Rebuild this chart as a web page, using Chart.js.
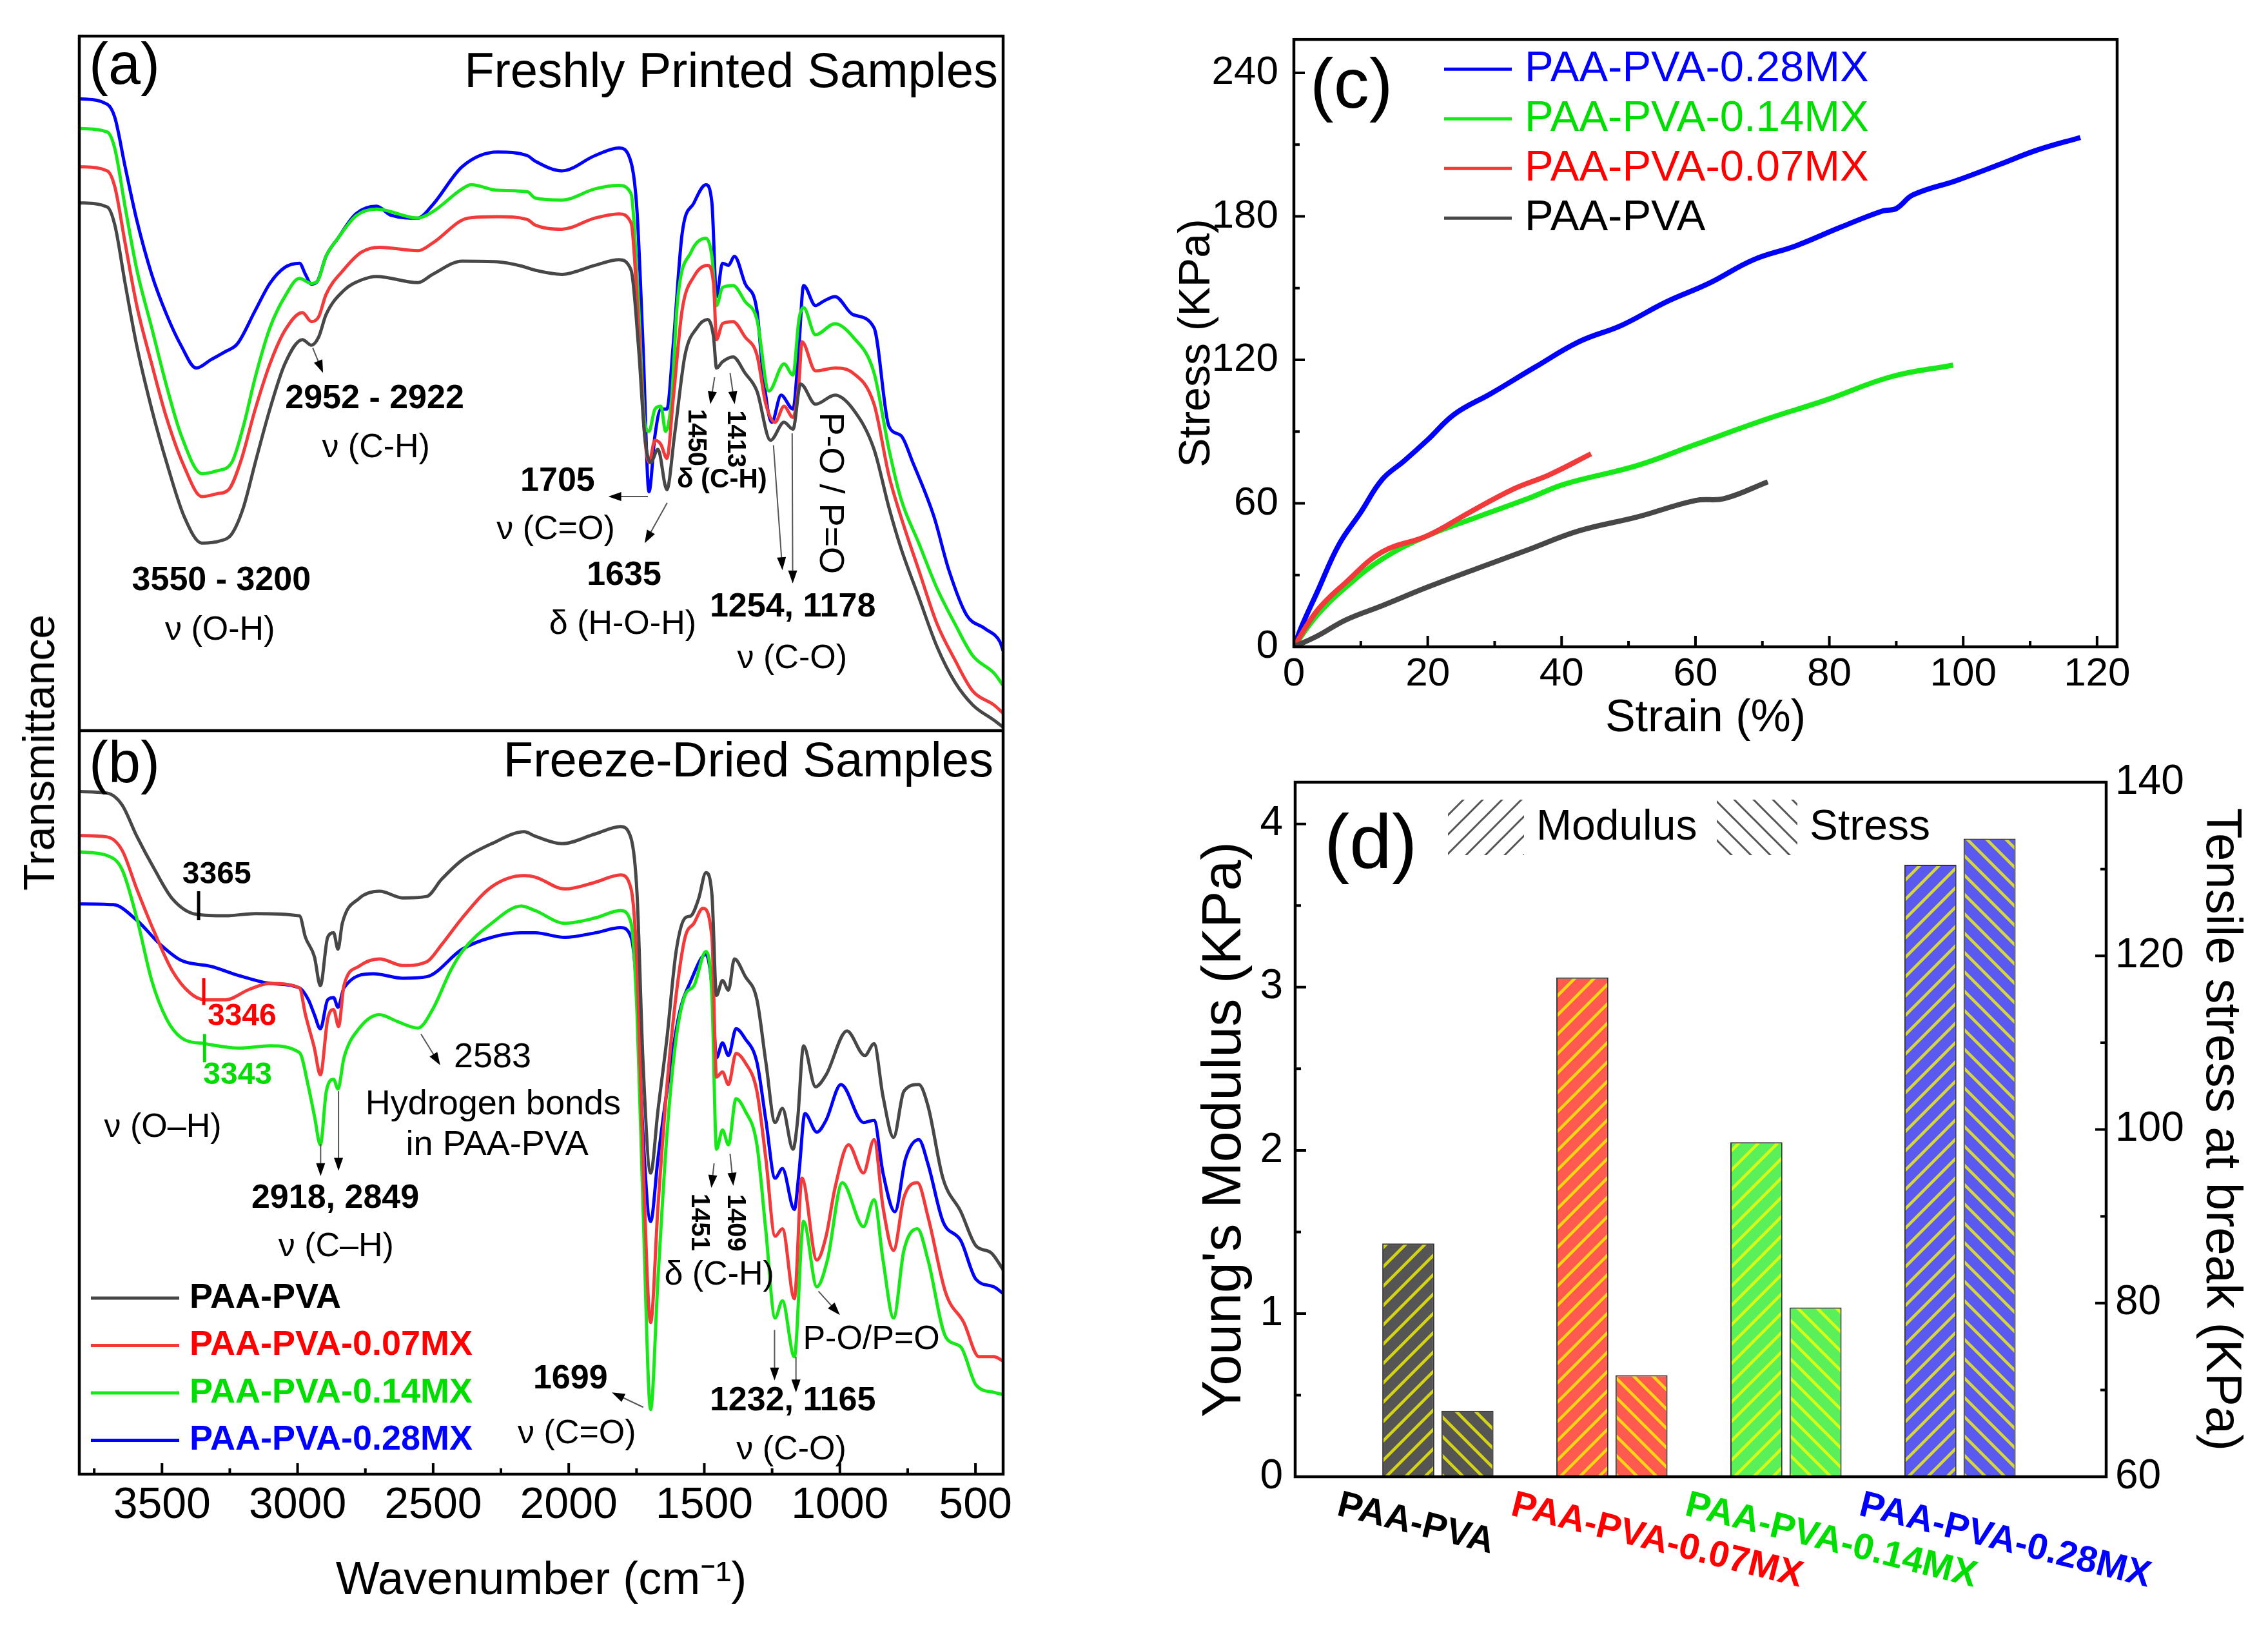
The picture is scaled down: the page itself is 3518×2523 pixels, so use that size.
<!DOCTYPE html>
<html>
<head>
<meta charset="utf-8">
<script src="https://cdn.jsdelivr.net/npm/chart.js@4.4.1/dist/chart.umd.min.js"></script>
<style>
  body { margin: 0; background: #fff; width: 3518px; height: 2523px; position: relative; overflow: hidden; font-family: "Liberation Sans", Arial, sans-serif; }
  canvas { position: absolute; }
  #ytitle { position: absolute; left: 60px; top: 1167px; transform: translate(-50%, -50%) rotate(-90deg); font-size: 68px; white-space: nowrap; color: #000; }
</style>
</head>
<body>
<canvas id="chartA" width="1600" height="1133" style="left:0;top:0"></canvas>
<canvas id="chartB" width="1600" height="1390" style="left:0;top:1133px"></canvas>
<canvas id="chartC" width="1758" height="1150" style="left:1760px;top:0"></canvas>
<canvas id="chartD" width="1758" height="1373" style="left:1760px;top:1150px"></canvas>
<div id="ytitle">Transmittance</div>
<script>
const FAM = '"Liberation Sans", Arial, sans-serif';
Chart.defaults.font.family = FAM;
Chart.defaults.color = '#000';

// ---------- data ----------
const seriesNames = ['PAA-PVA', 'PAA-PVA-0.07MX', 'PAA-PVA-0.14MX', 'PAA-PVA-0.28MX'];
const lineColors = ['#474747', '#f23a3a', '#17e817', '#0000ff'];
const textColors = ['#000000', '#ff0000', '#00dd00', '#0000ff'];

const waveTicks = [3500, 3000, 2500, 2000, 1500, 1000, 500];

// (a) freshly printed
const aGrayW = [3805,3702,3674,3636,3593,3538,3483,3418,3353,3287,3243,3200,3156,3102,3047,2982,2949,2922,2895,2829,2764,2709,2556,2502,2393,2262,2175,2124,2025,1903,1815,1770,1743,1720,1698,1671,1638,1610,1571,1527,1488,1466,1455,1433,1394,1350,1306,1256,1206,1173,1145,1090,1018,952,874,819,775,709,642,576,510,432,398];
const aGrayT = [76.0,75.4,72.8,64.4,55.4,46.3,38.6,30.8,27.0,27.3,28.3,32.1,38.6,46.3,52.8,56.3,55.5,56.7,59.9,63.4,64.9,65.4,64.5,65.7,67.6,67.5,66.9,66.3,65.7,67.0,67.8,66.3,55.4,42.5,38.6,40.5,34.7,42.5,54.1,58.0,59.2,56.7,52.2,53.1,53.8,51.5,48.9,41.8,44.4,43.4,49.9,47.0,48.3,46.3,40.5,32.1,26.3,19.2,12.1,7.0,3.7,1.5,0.5];
const aRedW = [3805,3702,3674,3636,3593,3538,3483,3418,3353,3298,3254,3211,3156,3102,3047,2982,2949,2922,2895,2829,2764,2698,2556,2502,2371,2262,2153,2124,2025,1903,1815,1770,1743,1720,1704,1682,1660,1638,1615,1582,1538,1488,1466,1455,1433,1394,1350,1306,1273,1239,1206,1173,1151,1140,1090,1018,952,874,819,775,709,642,576,510,432,398];
const aRedT = [81.2,80.6,78.3,70.2,61.2,52.8,45.0,38.0,33.7,34.1,34.7,38.6,46.3,52.8,57.6,60.2,58.9,59.6,62.8,66.4,68.9,69.6,69.1,70.2,73.8,74.0,73.6,72.8,72.2,73.8,74.4,73.1,58.6,42.5,38.6,41.8,41.2,39.2,47.6,60.5,65.4,67.0,64.4,56.3,58.6,58.9,56.7,54.1,47.0,44.4,46.7,45.1,50.2,56.0,51.8,52.2,51.5,47.0,36.7,30.8,23.1,15.4,10.2,5.7,3.7,2.5];
const aGreenW = [3805,3702,3674,3636,3593,3538,3483,3429,3353,3298,3243,3200,3156,3102,3047,2993,2949,2927,2895,2851,2785,2709,2556,2502,2393,2360,2262,2153,2124,2025,1903,1815,1770,1743,1720,1704,1682,1660,1643,1621,1599,1549,1494,1472,1455,1433,1394,1350,1306,1262,1206,1173,1151,1134,1090,1018,952,874,819,775,709,642,576,510,432,398];
const aGreenT = [86.7,86.2,83.8,75.4,66.4,58.0,49.6,42.5,37.0,37.4,38.6,43.8,50.9,58.0,62.5,65.1,64.4,64.7,68.3,70.9,74.1,75.1,73.8,74.7,78.0,78.6,77.8,77.6,76.7,76.4,78.0,78.5,77.3,61.8,44.4,43.1,46.3,46.7,43.1,47.6,61.8,68.9,70.9,68.3,61.2,63.8,64.1,61.8,59.2,48.9,52.8,51.2,59.2,60.9,57.0,58.6,56.7,51.5,40.5,33.4,27.0,20.5,15.4,10.8,8.3,6.5];
const aBlueW = [3805,3702,3674,3636,3593,3538,3483,3429,3374,3320,3265,3222,3156,3102,3047,2993,2971,2949,2927,2895,2851,2785,2709,2655,2556,2502,2393,2262,2153,2124,2025,1903,1815,1770,1748,1726,1704,1682,1660,1638,1615,1582,1538,1494,1472,1455,1433,1411,1389,1350,1306,1284,1251,1217,1173,1151,1134,1090,1062,1018,952,874,819,775,731,653,598,532,465,410,398];
const aBlueT = [91.0,90.2,88.3,81.2,73.5,65.7,59.9,55.4,52.2,53.4,54.6,55.7,60.5,64.4,66.7,67.3,65.7,64.3,64.7,68.3,70.9,74.4,75.5,74.2,73.8,75.7,81.2,83.3,82.8,82.0,80.6,82.8,83.9,81.8,74.7,55.4,34.4,42.5,46.3,46.3,55.4,71.5,76.0,78.6,76.0,62.5,67.3,67.0,68.3,64.4,60.5,51.5,44.4,48.3,46.3,55.4,64.1,61.2,61.8,62.5,59.9,58.0,43.8,42.5,38.6,30.8,23.1,16.6,14.7,12.8,11.5];

// (b) freeze-dried
const bGrayW = [3805,3702,3647,3593,3527,3462,3374,3265,3156,2993,2971,2938,2916,2889,2867,2851,2835,2774,2698,2611,2524,2469,2393,2284,2164,2124,2025,1903,1809,1770,1748,1726,1698,1671,1638,1604,1571,1549,1521,1494,1472,1455,1433,1411,1389,1350,1306,1273,1239,1212,1173,1156,1134,1090,1051,974,908,874,841,802,764,709,675,620,554,498,443,398];
const bGrayT = [91.8,91.6,90.0,85.8,81.3,77.4,75.3,75.1,75.4,75.1,72.2,69.6,65.7,72.2,72.8,70.6,74.1,77.4,78.4,77.5,77.7,80.0,82.6,84.8,86.4,85.8,84.8,86.1,87.1,85.5,78.0,55.4,40.5,48.9,58.6,70.3,74.8,75.1,77.4,80.9,78.0,64.4,66.4,65.1,69.3,67.0,63.8,55.4,47.3,49.2,43.7,47.6,57.6,52.1,53.7,59.6,56.3,57.9,50.8,45.3,51.5,52.4,49.5,39.8,35.3,30.7,29.8,27.5];
const bRedW = [3805,3702,3647,3593,3527,3462,3396,3342,3265,3178,3102,2993,2971,2938,2916,2889,2867,2849,2829,2774,2698,2611,2524,2469,2393,2284,2164,2124,2014,1903,1809,1770,1748,1726,1698,1671,1638,1604,1571,1538,1505,1472,1455,1433,1411,1383,1350,1306,1273,1239,1212,1168,1140,1085,1051,1018,968,913,874,841,802,764,714,675,609,543,487,432,398];
const bRedT = [85.9,85.7,83.9,78.7,72.8,67.7,64.7,63.8,63.8,65.2,66.0,65.4,61.8,57.3,53.7,61.2,62.5,60.2,65.7,68.3,69.3,68.4,68.9,71.2,74.8,79.0,80.5,80.3,78.7,79.6,80.6,78.7,68.3,42.4,20.4,35.9,52.1,64.4,72.2,74.1,76.1,72.2,53.4,54.1,52.4,56.6,55.4,51.5,42.4,32.0,33.0,23.6,39.8,28.8,32.0,38.5,44.3,40.5,45.0,35.9,30.1,37.2,39.2,34.6,24.3,20.4,15.8,15.8,15.2];
const bGreenW = [3805,3702,3647,3593,3538,3483,3429,3342,3211,3102,2993,2960,2938,2916,2894,2867,2851,2829,2774,2698,2633,2556,2502,2436,2393,2284,2175,2124,2014,1903,1809,1770,1748,1726,1698,1671,1638,1604,1571,1538,1494,1472,1455,1433,1411,1383,1350,1306,1273,1239,1212,1168,1134,1085,1046,991,913,874,841,802,764,714,675,609,554,498,432,398];
const bGreenT = [83.7,83.2,81.3,74.8,66.4,61.2,58.7,57.9,57.3,57.6,56.7,52.1,48.2,44.3,51.5,53.1,51.8,56.0,59.9,61.8,60.9,60.0,62.5,67.7,70.3,74.1,76.4,75.8,74.1,74.8,75.8,74.1,61.8,35.9,8.7,26.2,45.6,58.6,64.4,65.7,70.3,64.4,43.7,46.3,44.3,50.5,48.9,44.3,32.7,21.0,23.3,15.8,34.0,25.2,28.8,39.2,33.3,36.9,28.8,21.0,30.1,33.0,28.8,18.4,17.1,12.0,11.0,10.7];
const bBlueW = [3805,3680,3593,3505,3429,3320,3211,3102,2993,2960,2938,2916,2889,2867,2851,2829,2720,2611,2524,2393,2284,2175,2124,2014,1903,1809,1770,1748,1726,1698,1671,1638,1593,1549,1494,1472,1455,1433,1411,1383,1350,1306,1273,1239,1212,1168,1151,1129,1085,1051,996,913,874,841,797,758,709,675,620,554,498,432,398];
const bBlueT = [76.7,76.6,74.5,71.2,69.1,68.3,67.0,66.0,65.4,63.8,61.8,59.9,63.8,64.1,62.8,65.4,67.3,66.7,66.9,70.6,72.2,72.8,72.8,72.2,72.8,73.5,72.2,64.4,45.6,34.0,42.4,51.5,61.8,66.4,69.9,65.7,56.0,58.0,56.3,59.9,58.6,55.4,47.6,39.8,41.1,35.6,40.5,48.5,46.0,47.6,52.4,47.3,47.6,40.5,35.3,42.4,45.0,41.7,34.0,31.4,26.2,25.2,24.3];

// (c) stress-strain
const strainTicks = [0, 20, 40, 60, 80, 100, 120];
const stressTicks = [0, 60, 120, 180, 240];
const strainGray = [0, 3.5, 7.8, 13.2, 20, 27.4, 35, 42.6, 51.3, 60, 64.3, 70.8];
const stressGray = [0, 4.5, 11.3, 17.2, 25, 32.8, 40.6, 48.5, 54.3, 61.2, 62, 69];
const strainRed = [0, 3.5, 7.8, 13.2, 20, 26.3, 32.8, 38.2, 44.4];
const stressRed = [0, 15.2, 27, 39.7, 46.5, 56.3, 66, 72, 80.7];
const strainGreen = [0, 3.5, 7.8, 13.2, 20, 27.4, 35, 40.4, 51.3, 60, 70.8, 79.5, 89.3, 98.5];
const stressGreen = [0, 13.3, 25, 36.7, 46.5, 54.3, 62, 68, 75.8, 84.6, 95.4, 103.2, 113, 117.8];
const strainBlue = [0, 1.3, 3.5, 6.7, 10, 13.2, 16.5, 20, 24, 29.5, 36, 42.6, 49, 55.6, 62, 68.6, 75, 81.7, 88, 90, 92.5, 99, 105.5, 111, 117.5];
const stressBlue = [0, 9.4, 23, 42.6, 56.3, 70, 77.8, 86.6, 97.3, 106, 116.9, 127.6, 134.5, 144.2, 152, 161.8, 167.7, 175.5, 182.3, 183.3, 189, 195, 201.8, 207.7, 213];

// (d) bars
const barGroups = ['PAA-PVA', 'PAA-PVA-0.07MX', 'PAA-PVA-0.14MX', 'PAA-PVA-0.28MX'];
const modulusKPa = [1.43, 3.06, 2.05, 3.75];
const breakStressKPa = [67.6, 71.7, 79.5, 133.5];
const modulusTicks = [0, 1, 2, 3, 4];
const breakTicks = [60, 80, 100, 120, 140];
const barFills = ['#555555', '#ff5a50', '#5af05a', '#5a5af0'];

// ---------- helpers ----------
const base = {
  responsive: false, animation: false, devicePixelRatio: 1, events: [],
  plugins: { legend: { display: false }, tooltip: { enabled: false } }
};

function pts(xs, ys) { return xs.map((x, i) => ({ x, y: ys[i] })); }

function spectrumSets(pairs) {
  return pairs.map(([w, t], i) => ({
    label: seriesNames[i], data: pts(w, t), borderColor: lineColors[i], borderWidth: 5,
    pointRadius: 0, fill: false, cubicInterpolationMode: 'monotone'
  }));
}

function txt(ctx, s, x, y, o = {}) {
  ctx.save();
  ctx.font = (o.bold ? 'bold ' : '') + (o.size || 52) + 'px ' + FAM;
  ctx.fillStyle = o.color || '#000';
  ctx.textAlign = o.align || 'center';
  ctx.textBaseline = o.base || 'middle';
  ctx.translate(x, y);
  if (o.rot) ctx.rotate(o.rot);
  ctx.fillText(s, 0, 0);
  ctx.restore();
}

function arrow(ctx, x1, y1, x2, y2) {
  const ang = Math.atan2(y2 - y1, x2 - x1), h = 20, w = 7;
  ctx.save();
  ctx.strokeStyle = '#555'; ctx.fillStyle = '#000'; ctx.lineWidth = 2;
  ctx.beginPath(); ctx.moveTo(x1, y1);
  ctx.lineTo(x2 - h * 0.8 * Math.cos(ang), y2 - h * 0.8 * Math.sin(ang)); ctx.stroke();
  ctx.beginPath(); ctx.moveTo(x2, y2);
  ctx.lineTo(x2 - h * Math.cos(ang) + w * Math.sin(ang), y2 - h * Math.sin(ang) - w * Math.cos(ang));
  ctx.lineTo(x2 - h * Math.cos(ang) - w * Math.sin(ang), y2 - h * Math.sin(ang) + w * Math.cos(ang));
  ctx.closePath(); ctx.fill();
  ctx.restore();
}

function frame(chart) {
  const { ctx, chartArea: a } = chart;
  ctx.save(); ctx.strokeStyle = '#000'; ctx.lineWidth = 4.5;
  ctx.strokeRect(a.left, a.top, a.right - a.left, a.bottom - a.top);
  ctx.restore();
}

// inward ticks
function inTicks(chart, id, edge, minorStep) {
  const s = chart.scales[id], a = chart.chartArea, ctx = chart.ctx;
  const majors = s.ticks.map(t => t.value);
  const marks = majors.map(v => [v, 17]);
  if (minorStep) {
    for (let v = Math.ceil(s.min / minorStep) * minorStep; v <= s.max + 1e-9; v += minorStep) {
      if (!majors.some(m => Math.abs(m - v) < 1e-6)) marks.push([v, 9]);
    }
  }
  ctx.save(); ctx.strokeStyle = '#000'; ctx.lineWidth = 4;
  ctx.beginPath();
  marks.forEach(([v, len]) => {
    const p = s.getPixelForValue(v);
    if (edge === 'bottom') { ctx.moveTo(p, a.bottom); ctx.lineTo(p, a.bottom - len); }
    else if (edge === 'left') { ctx.moveTo(a.left, p); ctx.lineTo(a.left + len, p); }
    else { ctx.moveTo(a.right, p); ctx.lineTo(a.right - len, p); }
  });
  ctx.stroke(); ctx.restore();
}

function drawNotes(chart, notes, arrows) {
  const { ctx, scales: { x, y } } = chart;
  arrows.forEach(([w1, v1, w2, v2]) =>
    arrow(ctx, x.getPixelForValue(w1), y.getPixelForValue(v1), x.getPixelForValue(w2), y.getPixelForValue(v2)));
  notes.forEach(n => txt(ctx, n.t, x.getPixelForValue(n.w), y.getPixelForValue(n.v), n));
}

function hatch(ctx, fill, lineColor, dir, lw) {
  const c = document.createElement('canvas');
  c.width = 30; c.height = 30;
  const g = c.getContext('2d');
  if (fill) { g.fillStyle = fill; g.fillRect(0, 0, 30, 30); }
  g.strokeStyle = lineColor; g.lineWidth = lw;
  g.beginPath();
  if (dir === '/') {
    g.moveTo(-5, 35); g.lineTo(35, -5); g.moveTo(-5, 5); g.lineTo(5, -5); g.moveTo(25, 35); g.lineTo(35, 25);
  } else {
    g.moveTo(-5, -5); g.lineTo(35, 35); g.moveTo(25, -5); g.lineTo(35, 5); g.moveTo(-5, 25); g.lineTo(5, 35);
  }
  g.stroke();
  return ctx.createPattern(c, 'repeat');
}

const waveAxis = { type: 'linear', reverse: true, min: 398, max: 3805 };

// ---------- (a) ----------
const notesA = [
  { t: '2952 - 2922', w: 2716, v: 47.8, bold: true },
  { t: 'ν (C-H)', w: 2711, v: 40.7 },
  { t: '3550 - 3200', w: 3281, v: 21.6, bold: true },
  { t: 'ν (O-H)', w: 3286, v: 14.4 },
  { t: '1705', w: 2041, v: 35.9, bold: true },
  { t: 'ν (C=O)', w: 2048, v: 28.9 },
  { t: '1635', w: 1796, v: 22.3, bold: true },
  { t: 'δ (H-O-H)', w: 1801, v: 15.3 },
  { t: '1450', w: 1533, v: 42.2, bold: true, size: 40, rot: Math.PI / 2 },
  { t: '1413', w: 1386, v: 42.0, bold: true, size: 40, rot: Math.PI / 2 },
  { t: 'δ (C-H)', w: 1435, v: 36.1, bold: true, size: 42 },
  { t: 'P-O / P=O', w: 1039, v: 34.2, size: 54, rot: Math.PI / 2 },
  { t: '1254, 1178', w: 1174, v: 17.8, bold: true },
  { t: 'ν (C-O)', w: 1176, v: 10.3 }
];
const arrowsA = [
  [2944, 55.1, 2906, 51.5], [1708, 33.7, 1854, 33.7], [1637, 32.8, 1720, 27.0],
  [1462, 50.9, 1478, 47.0], [1405, 51.5, 1388, 47.0], [1245, 41.1, 1212, 23.1], [1176, 42.8, 1174, 21.2]
];

new Chart(document.getElementById('chartA'), {
  type: 'line',
  data: { datasets: spectrumSets([[aGrayW, aGrayT], [aRedW, aRedT], [aGreenW, aGreenT], [aBlueW, aBlueT]]) },
  options: {
    ...base,
    layout: { padding: { left: 123, top: 56, right: 44, bottom: 0 } },
    scales: { x: { ...waveAxis, display: false }, y: { min: 0, max: 100, display: false } }
  },
  plugins: [{
    id: 'decoA',
    afterDatasetsDraw(chart) {
      const { ctx, chartArea: a } = chart;
      frame(chart);
      drawNotes(chart, notesA, arrowsA);
      txt(ctx, '(a)', a.left + 15, a.top + 49, { size: 90, align: 'left' });
      txt(ctx, 'Freshly Printed Samples', a.right - 8, a.top + 58, { size: 76, align: 'right' });
    }
  }]
});

// ---------- (b) ----------
const notesB = [
  { t: '3365', w: 3298, v: 80.6, bold: true, size: 48 },
  { t: '3346', w: 3205, v: 61.5, bold: true, size: 48, color: '#ff0000' },
  { t: '3343', w: 3221, v: 53.6, bold: true, size: 48, color: '#00dd00' },
  { t: 'ν (O–H)', w: 3497, v: 46.6 },
  { t: '2583', w: 2281, v: 56.0, size: 54 },
  { t: 'Hydrogen bonds', w: 2279, v: 49.7, size: 54 },
  { t: 'in PAA-PVA', w: 2264, v: 44.2, size: 54 },
  { t: '2918, 2849', w: 2861, v: 37.1, bold: true },
  { t: 'ν (C–H)', w: 2858, v: 30.6 },
  { t: '1699', w: 1994, v: 12.8, bold: true },
  { t: 'ν (C=O)', w: 1970, v: 5.4 },
  { t: '1451', w: 1521, v: 33.9, bold: true, size: 40, rot: Math.PI / 2 },
  { t: '1409', w: 1388, v: 33.8, bold: true, size: 40, rot: Math.PI / 2 },
  { t: 'δ (C-H)', w: 1445, v: 26.7 },
  { t: 'P-O/P=O', w: 884, v: 18.1 },
  { t: '1232, 1165', w: 1174, v: 9.8, bold: true },
  { t: 'ν (C-O)', w: 1179, v: 3.2 }
];
const arrowsB = [
  [2545, 59.2, 2474, 55.0], [2915, 44.4, 2915, 40.1], [2849, 51.5, 2849, 40.8], [1725, 9.0, 1841, 11.0],
  [1464, 41.8, 1474, 38.5], [1405, 43.1, 1393, 38.8], [1079, 24.6, 1000, 21.4], [1241, 19.4, 1241, 12.6], [1162, 15.8, 1162, 11.0]
];
const marksB = [[3365, 78.4, 74.5, '#000000'], [3346, 66.7, 63.1, '#ff0000'], [3343, 59.2, 55.4, '#00dd00']];

new Chart(document.getElementById('chartB'), {
  type: 'line',
  data: { datasets: spectrumSets([[bGrayW, bGrayT], [bRedW, bRedT], [bGreenW, bGreenT], [bBlueW, bBlueT]]) },
  options: {
    ...base,
    layout: { padding: { left: 123, top: 0, right: 44, bottom: 0 } },
    scales: {
      x: {
        ...waveAxis,
        afterBuildTicks: s => { s.ticks = waveTicks.map(v => ({ value: v })); },
        afterFit: s => { s.height = 237; },
        ticks: { font: { size: 68 }, color: '#000', padding: 8, maxRotation: 0, autoSkip: false, callback: v => String(v) },
        grid: { display: false, drawTicks: false },
        border: { display: false },
        title: { display: true, text: 'Wavenumber (cm⁻¹)', font: { size: 72, lineHeight: 1 }, color: '#000', padding: { top: 0, bottom: 35 } }
      },
      y: { min: 0, max: 100, display: false }
    }
  },
  plugins: [{
    id: 'decoB',
    afterDatasetsDraw(chart) {
      const { ctx, chartArea: a, scales: { x, y } } = chart;
      frame(chart);
      inTicks(chart, 'x', 'bottom', 250);
      ctx.save(); ctx.lineWidth = 5;
      marksB.forEach(([w, v1, v2, c]) => {
        ctx.strokeStyle = c; ctx.beginPath();
        ctx.moveTo(x.getPixelForValue(w), y.getPixelForValue(v1));
        ctx.lineTo(x.getPixelForValue(w), y.getPixelForValue(v2)); ctx.stroke();
      });
      ctx.restore();
      drawNotes(chart, notesB, arrowsB);
      txt(ctx, '(b)', a.left + 15, a.top + 55, { size: 90, align: 'left' });
      txt(ctx, 'Freeze-Dried Samples', a.right - 15, a.top + 50, { size: 76, align: 'right' });
      // legend
      chart.data.datasets.forEach((ds, i) => {
        const yy = a.bottom - 273 + i * 73.5;
        ctx.save(); ctx.strokeStyle = ds.borderColor; ctx.lineWidth = 5;
        ctx.beginPath(); ctx.moveTo(a.left + 18, yy); ctx.lineTo(a.left + 155, yy); ctx.stroke(); ctx.restore();
        txt(ctx, ds.label, a.left + 171, yy, { bold: true, size: 54, color: textColors[i], align: 'left' });
      });
    }
  }]
});

// ---------- (c) ----------
const curveSets = [[strainGray, stressGray], [strainRed, stressRed], [strainGreen, stressGreen], [strainBlue, stressBlue]];
new Chart(document.getElementById('chartC'), {
  type: 'line',
  data: {
    datasets: curveSets.map(([xs, ys], i) => ({
      label: seriesNames[i], data: pts(xs, ys), borderColor: lineColors[i], borderWidth: 8,
      pointRadius: 0, fill: false, tension: 0.4
    }))
  },
  options: {
    ...base,
    layout: { padding: { left: 0, top: 50, right: 234, bottom: 0 } },
    scales: {
      x: {
        type: 'linear', min: 0, max: 123,
        afterBuildTicks: s => { s.ticks = strainTicks.map(v => ({ value: v })); },
        afterFit: s => { s.height = 147; },
        ticks: { font: { size: 62 }, color: '#000', padding: 6, maxRotation: 0, autoSkip: false, callback: v => String(v) },
        grid: { display: false, drawTicks: false },
        border: { display: false },
        title: { display: true, text: 'Strain (%)', font: { size: 70, lineHeight: 1 }, color: '#000', padding: { top: 0, bottom: 0 } }
      },
      y: {
        type: 'linear', min: 0, max: 254,
        afterBuildTicks: s => { s.ticks = stressTicks.map(v => ({ value: v })); },
        afterFit: s => { s.width = 247; },
        ticks: { font: { size: 62 }, color: '#000', padding: 24, autoSkip: false, callback: v => String(v) },
        grid: { display: false, drawTicks: false },
        border: { display: false },
        title: { display: true, text: 'Stress (KPa)', font: { size: 68, lineHeight: 1 }, color: '#000', padding: { top: 63, bottom: 0 } }
      }
    }
  },
  plugins: [{
    id: 'decoC',
    afterDatasetsDraw(chart) {
      const { ctx, chartArea: a } = chart;
      frame(chart);
      inTicks(chart, 'x', 'bottom', 10);
      inTicks(chart, 'y', 'left', 30);
      txt(ctx, '(c)', a.left + 25, a.top + 75, { size: 110, align: 'left' });
      const order = [3, 2, 1, 0];
      order.forEach((k, r) => {
        const ds = chart.data.datasets[k];
        const yy = a.top + 46 + r * 77;
        ctx.save(); ctx.strokeStyle = ds.borderColor; ctx.lineWidth = 5;
        ctx.beginPath(); ctx.moveTo(a.left + 233, yy); ctx.lineTo(a.left + 338, yy); ctx.stroke(); ctx.restore();
        txt(ctx, ds.label, a.left + 358, yy, { size: 67, color: textColors[k], align: 'left' });
      });
    }
  }]
});

// ---------- (d) ----------
const ctxD = document.getElementById('chartD').getContext('2d');
const modFill = barFills.map(c => hatch(ctxD, c, 'rgba(255,255,0,0.75)', '/', 4.5));
const strFill = barFills.map(c => hatch(ctxD, c, 'rgba(255,255,0,0.75)', '\\', 4.5));

new Chart(ctxD, {
  type: 'bar',
  data: {
    datasets: [
      {
        label: 'Modulus', yAxisID: 'y',
        data: barGroups.map((g, i) => ({ x: i, y: modulusKPa[i] })),
        backgroundColor: modFill, borderColor: '#333', borderWidth: 2,
        categoryPercentage: 0.68, barPercentage: 0.88
      },
      {
        label: 'Stress', yAxisID: 'y2',
        data: barGroups.map((g, i) => ({ x: i, y: breakStressKPa[i] })),
        backgroundColor: strFill, borderColor: '#333', borderWidth: 2,
        categoryPercentage: 0.68, barPercentage: 0.88
      }
    ]
  },
  options: {
    ...base,
    layout: { padding: { left: 0, top: 63, right: 0, bottom: 233 } },
    scales: {
      x: {
        type: 'linear', min: -0.82, max: 3.84, display: false, offset: false,
        afterBuildTicks: s => { s.ticks = barGroups.map((g, i) => ({ value: i })); }
      },
      y: {
        type: 'linear', position: 'left', min: 0, max: 4.256,
        afterBuildTicks: s => { s.ticks = modulusTicks.map(v => ({ value: v })); },
        afterFit: s => { s.width = 249; },
        ticks: { font: { size: 64 }, color: '#000', padding: 19, autoSkip: false, callback: v => String(v) },
        grid: { display: false, drawTicks: false },
        border: { display: false },
        title: { display: true, text: "Young's Modulus (KPa)", font: { size: 86, lineHeight: 1 }, color: '#000', padding: { top: 97, bottom: 0 } }
      },
      y2: {
        type: 'linear', position: 'right', min: 60, max: 140,
        afterBuildTicks: s => { s.ticks = breakTicks.map(v => ({ value: v })); },
        afterFit: s => { s.width = 251; },
        ticks: { font: { size: 64 }, color: '#000', padding: 14, autoSkip: false, callback: v => String(v) },
        grid: { display: false, drawTicks: false },
        border: { display: false },
        title: { display: true, text: 'Tensile stress at break (KPa)', font: { size: 78, lineHeight: 1 }, color: '#000', padding: { top: 34, bottom: 0 } }
      }
    }
  },
  plugins: [{
    id: 'decoD',
    afterDatasetsDraw(chart) {
      const { ctx, chartArea: a } = chart;
      frame(chart);
      inTicks(chart, 'y', 'left', 0.5);
      inTicks(chart, 'y2', 'right', 10);
      txt(ctx, '(d)', a.left + 45, a.top + 100, { size: 118, align: 'left' });
      // legend
      const boxes = [[237, 118, '/', 'Modulus', 374], [654, 125, '\\', 'Stress', 798]];
      boxes.forEach(([dx, bw, dir, label, tx]) => {
        ctx.save();
        ctx.fillStyle = hatch(ctx, '#ffffff', '#555555', dir, 3);
        ctx.fillRect(a.left + dx, a.top + 27, bw, 86);
        ctx.restore();
        txt(ctx, label, a.left + tx, a.top + 71, { size: 66, align: 'left' });
      });
      // rotated category labels
      const xs = chart.scales.x;
      barGroups.forEach((g, i) => {
        txt(ctx, g, xs.getPixelForValue(i) - 148, a.bottom + 16,
          { bold: true, size: 57, color: textColors[i], align: 'left', base: 'top', rot: 14 * Math.PI / 180 });
      });
    }
  }]
});
</script>
</body>
</html>
